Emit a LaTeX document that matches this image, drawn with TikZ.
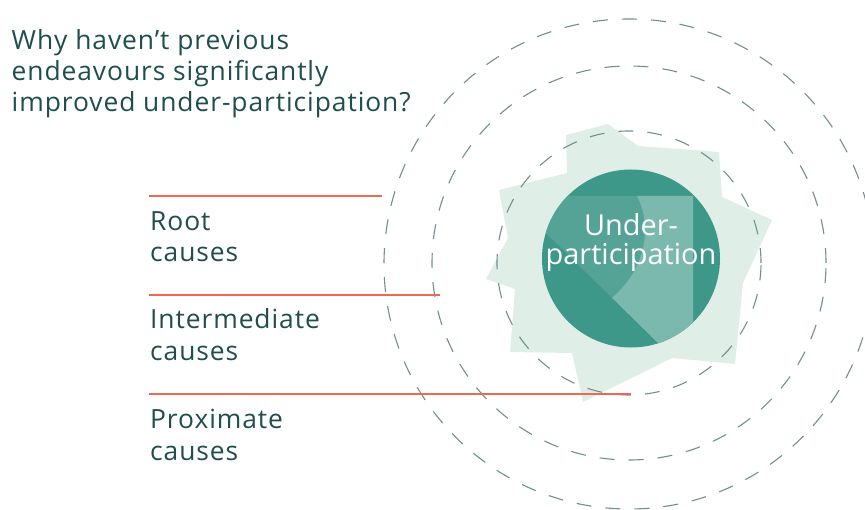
\documentclass[tikz,border=0pt]{standalone}
\usepackage{fontspec}
\setmainfont{Open Sans}
\newfontfamily\widesans[LetterSpace=3.5]{Open Sans}
\definecolor{halo}{HTML}{DFEEE6}
\definecolor{coredark}{HTML}{3E9889}
\definecolor{coremid}{HTML}{55A397}
\definecolor{corelight}{HTML}{7BB8AE}
\definecolor{inkdark}{HTML}{1F4E4D}
\definecolor{sepred}{HTML}{EE6A4F}
\definecolor{dashgrey}{HTML}{718F8F}
\tikzset{
  ring/.style={circle, draw=dashgrey, line width=1.1bp, dash pattern=on 15bp off 14bp, inner sep=0pt, minimum size=#1},
  sepline/.style={draw=sepred, line width=1.5bp},
  label/.style={anchor=base west, align=left, text=inkdark, inner sep=0pt, font=\widesans\fontsize{26.5}{31.5}\selectfont},
  title/.style={anchor=base west, align=left, text=inkdark, inner sep=0pt, font=\widesans\fontsize{26.5}{31}\selectfont},
  coretext/.style={anchor=base, align=center, text=white, inner sep=0pt, font=\fontsize{29}{30}\selectfont}
}
\begin{document}
\begin{tikzpicture}[x=1bp,y=-1bp]
\useasboundingbox (0,0) rectangle (865,510);
% halo polygon
\fill[halo] (566,135) -- (608,124) -- (638,146) -- (719,152) -- (722,197) -- (772,220) -- (743,283) -- (735,364) -- (672,358) -- (583,402) -- (572,353) -- (510,352) -- (515,289) -- (486,279) -- (508,238) -- (499,190) -- (567,173) -- cycle;
% dashed rings
\node[ring=264bp] (ringA) at (629,263) {};
\node[ring=394bp] (ringB) at (629,263) {};
\node[ring=490bp] (ringC) at (629,264) {};
% core circle
\node[circle, fill=coredark, minimum size=178bp, inner sep=0pt] (core) at (631,258.5) {};
\begin{scope}
  \clip (core.center) circle (89bp);
  \fill[coremid] (500,196) -- (637,196) .. controls (652,225) and (647,268) .. (612,297.8) -- (520,207.4) -- cycle;
  \fill[corelight] (637,196) -- (693,196) -- (693,380) -- (680,364.6) -- (612,297.8) .. controls (647,268) and (652,225) .. (637,196) -- cycle;
\end{scope}
\node[coretext] (coreText) at (631,265) {Under-\\participation};
% separators
\coordinate (s1a) at (149,196); \coordinate (s1b) at (382,196);
\coordinate (s2a) at (149,295); \coordinate (s2b) at (440,295);
\coordinate (s3a) at (149,394); \coordinate (s3b) at (631,394);
\draw[sepline] (s1a) -- (s1b);
\draw[sepline] (s2a) -- (s2b);
\draw[sepline] (s3a) -- (s3b);
% texts
\node[title] (question) at (11.5,111.7) {Why haven’t previous\\endeavours significantly\\improved under-participation?};
\node[label] (root) at (150,262) {Root\\causes};
\node[label] (inter) at (150,360) {Intermediate\\causes};
\node[label] (prox) at (150,460) {Proximate\\causes};
\end{tikzpicture}
\end{document}
